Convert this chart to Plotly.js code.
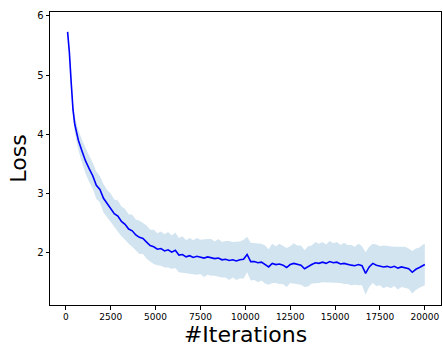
<!DOCTYPE html>
<html>
<head>
<meta charset="utf-8">
<script src="https://cdn.plot.ly/plotly-3.0.1.min.js"></script>
<style>html,body{margin:0;padding:0;background:#fff;}#chart{width:443px;height:347px;}</style>
</head>
<body>
<div id="chart"></div>
<script>
const iterations = [100,200,300,400,500,600,700,900,1100,1300,1500,1700,1900,2100,2300,2500,2700,2900,3100,3300,3500,3700,3900,4100,4300,4500,4700,4900,5100,5300,5500,5700,5900,6100,6300,6500,6700,6900,7100,7300,7500,7700,7900,8100,8300,8500,8700,8900,9100,9300,9500,9700,9900,10100,10300,10500,10700,10900,11100,11300,11500,11700,11900,12100,12300,12500,12700,12900,13100,13300,13500,13700,13900,14100,14300,14500,14700,14900,15100,15300,15500,15700,15900,16100,16300,16500,16700,16900,17100,17300,17500,17700,17900,18100,18300,18500,18700,18900,19100,19300,19500,19700,19900,20000];
const lossMean = [5.73,5.38,4.88,4.42,4.17,4.02,3.90,3.72,3.55,3.42,3.30,3.14,3.07,2.92,2.83,2.75,2.66,2.62,2.53,2.48,2.40,2.37,2.30,2.26,2.24,2.18,2.12,2.10,2.06,2.07,2.03,2.05,2.01,2.04,1.96,1.97,1.93,1.95,1.92,1.94,1.93,1.91,1.93,1.92,1.90,1.91,1.88,1.89,1.87,1.88,1.86,1.88,1.89,1.97,1.85,1.85,1.83,1.84,1.80,1.76,1.82,1.80,1.81,1.79,1.75,1.80,1.82,1.80,1.79,1.73,1.77,1.80,1.83,1.82,1.84,1.82,1.85,1.83,1.84,1.81,1.82,1.80,1.79,1.78,1.80,1.78,1.65,1.76,1.82,1.79,1.78,1.76,1.77,1.75,1.77,1.74,1.76,1.75,1.73,1.67,1.72,1.75,1.79,1.80];
const lossStd = [0.05,0.07,0.10,0.12,0.14,0.16,0.17,0.19,0.21,0.22,0.22,0.23,0.22,0.24,0.23,0.25,0.24,0.26,0.25,0.26,0.25,0.27,0.26,0.28,0.26,0.28,0.27,0.29,0.27,0.29,0.28,0.30,0.28,0.30,0.29,0.31,0.28,0.30,0.29,0.31,0.29,0.32,0.30,0.31,0.29,0.32,0.30,0.31,0.33,0.30,0.32,0.31,0.33,0.30,0.32,0.31,0.33,0.31,0.32,0.30,0.33,0.31,0.34,0.32,0.33,0.31,0.34,0.32,0.33,0.31,0.34,0.32,0.35,0.33,0.34,0.32,0.35,0.33,0.34,0.32,0.35,0.33,0.34,0.32,0.35,0.33,0.36,0.34,0.33,0.35,0.33,0.36,0.34,0.35,0.33,0.36,0.34,0.35,0.34,0.36,0.35,0.34,0.35,0.35];
const xTickVals = [0,2500,5000,7500,10000,12500,15000,17500,20000];
const xTickText = ['0','2500','5000','7500','10000','12500','15000','17500','20000'];
const yTickVals = [2,3,4,5,6];
const yTickText = ['2','3','4','5','6'];
const xLabel = '#Iterations';
const yLabel = 'Loss';

const upper = lossMean.map((m, i) => m + lossStd[i]);
const lower = lossMean.map((m, i) => m - lossStd[i]);
const bandColor = 'rgba(31,119,180,0.2)';

const traces = [
  {x: iterations, y: upper, type: 'scatter', mode: 'lines', line: {width: 0, color: bandColor}, hoverinfo: 'skip', showlegend: false},
  {x: iterations, y: lower, type: 'scatter', mode: 'lines', line: {width: 0, color: bandColor}, fill: 'tonexty', fillcolor: bandColor, hoverinfo: 'skip', showlegend: false},
  {x: iterations, y: lossMean, type: 'scatter', mode: 'lines', line: {width: 1.6, color: '#0000ff'}, showlegend: false}
];

const layout = {
  width: 443, height: 347,
  margin: {l: 50, r: 2, t: 12, b: 42},
  paper_bgcolor: '#fff', plot_bgcolor: '#fff',
  font: {family: 'DejaVu Sans, sans-serif', color: '#000'},
  showlegend: false,
  xaxis: {
    range: [-880, 20900],
    tickmode: 'array', tickvals: xTickVals, ticktext: xTickText,
    ticks: 'outside', ticklen: 3.5, tickwidth: 1, tickcolor: '#000',
    showline: true, mirror: true, linecolor: '#000', linewidth: 1,
    showgrid: false, zeroline: false,
    tickfont: {family: 'DejaVu Sans, sans-serif', size: 9, color: '#000'},
    title: {text: xLabel, font: {family: 'DejaVu Sans, sans-serif', size: 22, color: '#000'}, standoff: 5},
    automargin: false
  },
  yaxis: {
    range: [1.117, 6.066],
    tickmode: 'array', tickvals: yTickVals, ticktext: yTickText,
    ticks: 'outside', ticklen: 3.5, tickwidth: 1, tickcolor: '#000',
    showline: true, mirror: true, linecolor: '#000', linewidth: 1,
    showgrid: false, zeroline: false,
    tickfont: {family: 'DejaVu Sans, sans-serif', size: 10, color: '#000'},
    title: {text: yLabel, font: {family: 'DejaVu Sans, sans-serif', size: 22, color: '#000'}, standoff: 4},
    automargin: false
  }
};

Plotly.newPlot('chart', traces, layout, {staticPlot: true, displayModeBar: false});
</script>
</body>
</html>
